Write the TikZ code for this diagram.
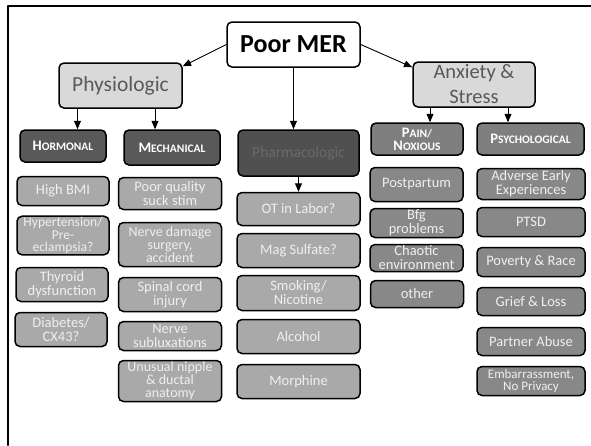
\documentclass[tikz,border=0pt]{standalone}
\usepackage{fontspec}
\setmainfont{Carlito}
\usetikzlibrary{arrows}

\definecolor{boxlight}{HTML}{D9D9D9}
\definecolor{boxdark}{HTML}{595959}
\definecolor{boxdarker}{HTML}{505050}
\definecolor{boxmid}{HTML}{7F7F7F}
\definecolor{itemlight}{HTML}{A9A9A9}
\definecolor{itemmid}{HTML}{888888}
\definecolor{itemtext}{HTML}{EFEFEF}
\definecolor{scripttext}{HTML}{595959}
\definecolor{pharmtext}{HTML}{6A6A6A}

% bold caps with a bigger first letter
\newcommand{\capsc}[2]{{\fontsize{14.5}{14}\selectfont #1}{\fontsize{11.5}{11}\selectfont #2}}

\tikzset{
  cause/.style={draw=black,line width=1.5pt,rounded corners=5pt,inner sep=1pt,align=center},
  topic/.style={cause,fill=boxlight,text=scripttext,font=\fontsize{21.5}{25}\selectfont},
  group/.style={cause,fill=boxdark,text=white,font=\fontsize{11.5}{13}\selectfont\bfseries},
  groupmid/.style={group,fill=boxmid},
  item/.style={cause,fill=itemlight,text=itemtext,font=\fontsize{14.5}{14}\selectfont},
  itemmid/.style={item,fill=itemmid},
  hormcol/.style={minimum width=92pt},
  mechcol/.style={minimum width=103pt},
  pharmcol/.style={minimum width=123pt},
  paincol/.style={minimum width=93pt},
  psychcol/.style={minimum width=108pt}
}

\begin{document}
\begin{tikzpicture}[line cap=round,line join=round,>=triangle 45,x=1pt,y=-1pt]
\useasboundingbox (0,0) rectangle (591,445);
\draw [line width=2.4pt] (591,6)--(8,6)--(8,445);

% top of the tree
\node [topic,fill=white,text=black,font=\fontsize{26}{26}\selectfont\bfseries,minimum width=133pt,minimum height=45pt] (mer) at (293.5,44.5) {Poor MER};
\node [topic,minimum width=123pt,minimum height=45pt] (phys) at (120.5,85.5) {Physiologic};
\node [topic,font=\fontsize{20.5}{25}\selectfont,minimum width=122pt,minimum height=45pt] (anx) at (474,84.5) {Anxiety \&\\Stress};

% groups
\node [group,minimum width=86pt,minimum height=32pt] (horm) at (63,146) {\capsc{H}{ORMONAL}};
\node [group,minimum width=96pt,minimum height=35pt] (mech) at (172,147.5) {\capsc{M}{ECHANICAL}};
\node [group,fill=boxdarker,text=pharmtext,font=\fontsize{15.5}{15}\selectfont,minimum width=121pt,minimum height=46pt] (pharm) at (298.5,153) {Pharmacologic};
\node [groupmid,minimum width=92pt,minimum height=32pt] (pain) at (417,139) {\capsc{P}{AIN/}\\\capsc{N}{OXIOUS}};
\node [groupmid,minimum width=107pt,minimum height=32pt] (psych) at (530.5,139) {\capsc{P}{SYCHOLOGICAL}};

% hormonal
\node [item,hormcol,minimum height=29pt] (bmi) at (63,191) {High BMI};
\node [item,hormcol,minimum height=38pt,font=\fontsize{13.5}{12.5}\selectfont] (hyper) at (63,235.5) {Hypertension/\\Pre-\\eclampsia?};
\node [item,hormcol,minimum height=34pt] (thyroid) at (62,284.5) {Thyroid\\dysfunction};
\node [item,hormcol,minimum height=34pt] (diab) at (61,329.5) {Diabetes/\\CX43?};

% mechanical
\node [item,mechcol,minimum height=32pt] (suck) at (170,193.5) {Poor quality\\suck stim};
\node [item,mechcol,minimum height=44pt,font=\fontsize{14}{13}\selectfont] (nerve) at (170,244.5) {Nerve damage\\surgery,\\accident};
\node [item,mechcol,minimum height=34pt] (spinal) at (170,294.5) {Spinal cord\\injury};
\node [item,mechcol,minimum height=29pt] (sublux) at (170,336) {Nerve\\subluxations};
\node [item,mechcol,minimum height=41pt,font=\fontsize{14}{13}\selectfont] (nipple) at (170,381) {Unusual nipple\\\& ductal\\anatomy};

% pharmacologic
\node [item,pharmcol,minimum height=33pt] (ot) at (298.5,209) {OT in Labor?};
\node [item,pharmcol,minimum height=34pt] (mag) at (298.5,250.5) {Mag Sulfate?};
\node [item,pharmcol,minimum height=35pt] (smoke) at (298.5,293) {Smoking/\\Nicotine};
\node [item,pharmcol,minimum height=34pt] (alc) at (298.5,336.5) {Alcohol};
\node [item,pharmcol,minimum height=34pt] (morph) at (298.5,381.5) {Morphine};

% pain / noxious
\node [itemmid,paincol,minimum height=34pt] (post) at (416.5,184.5) {Postpartum};
\node [itemmid,paincol,minimum height=29pt] (bfg) at (416.5,223) {Bfg\\problems};
\node [itemmid,paincol,minimum height=27pt] (chaos) at (416.5,258) {Chaotic\\environment};
\node [itemmid,paincol,minimum height=27pt] (other) at (417,294) {other};

% psychological
\node [itemmid,psychcol,minimum height=31pt] (adverse) at (531,184) {Adverse Early\\Experiences};
\node [itemmid,psychcol,minimum height=29pt] (ptsd) at (531,222) {PTSD};
\node [itemmid,psychcol,minimum height=29pt] (poverty) at (531,262) {Poverty \& Race};
\node [itemmid,psychcol,minimum height=28pt] (grief) at (531,301.5) {Grief \& Loss};
\node [itemmid,psychcol,minimum height=28pt] (partner) at (531,341.5) {Partner Abuse};
\node [itemmid,psychcol,minimum height=29pt,font=\fontsize{13}{12}\selectfont] (embarr) at (531,381) {Embarrassment,\\No Privacy};

% arrows
\draw [->,line width=0.9pt] (mer.west)--([yshift=-4pt]phys.north east);
\draw [->,line width=0.9pt] (mer.east)--([yshift=-6pt]anx.north west);
\draw [->,line width=0.9pt] (mer.south)--(mer.south |- pharm.north);
\draw [->,line width=0.9pt] ([xshift=-43pt]phys.south)--([xshift=-43pt]phys.south |- horm.north);
\draw [->,line width=0.9pt] ([xshift=34.5pt]phys.south)--([xshift=34.5pt]phys.south |- mech.north);
\draw [->,line width=0.9pt] ([xshift=-44pt]anx.south)--([xshift=-44pt]anx.south |- pain.north);
\draw [->,line width=0.9pt] ([xshift=34pt]anx.south)--([xshift=34pt]anx.south |- psych.north);
\draw [->,line width=0.9pt] (pharm.south)--(ot.north);
\end{tikzpicture}
\end{document}
